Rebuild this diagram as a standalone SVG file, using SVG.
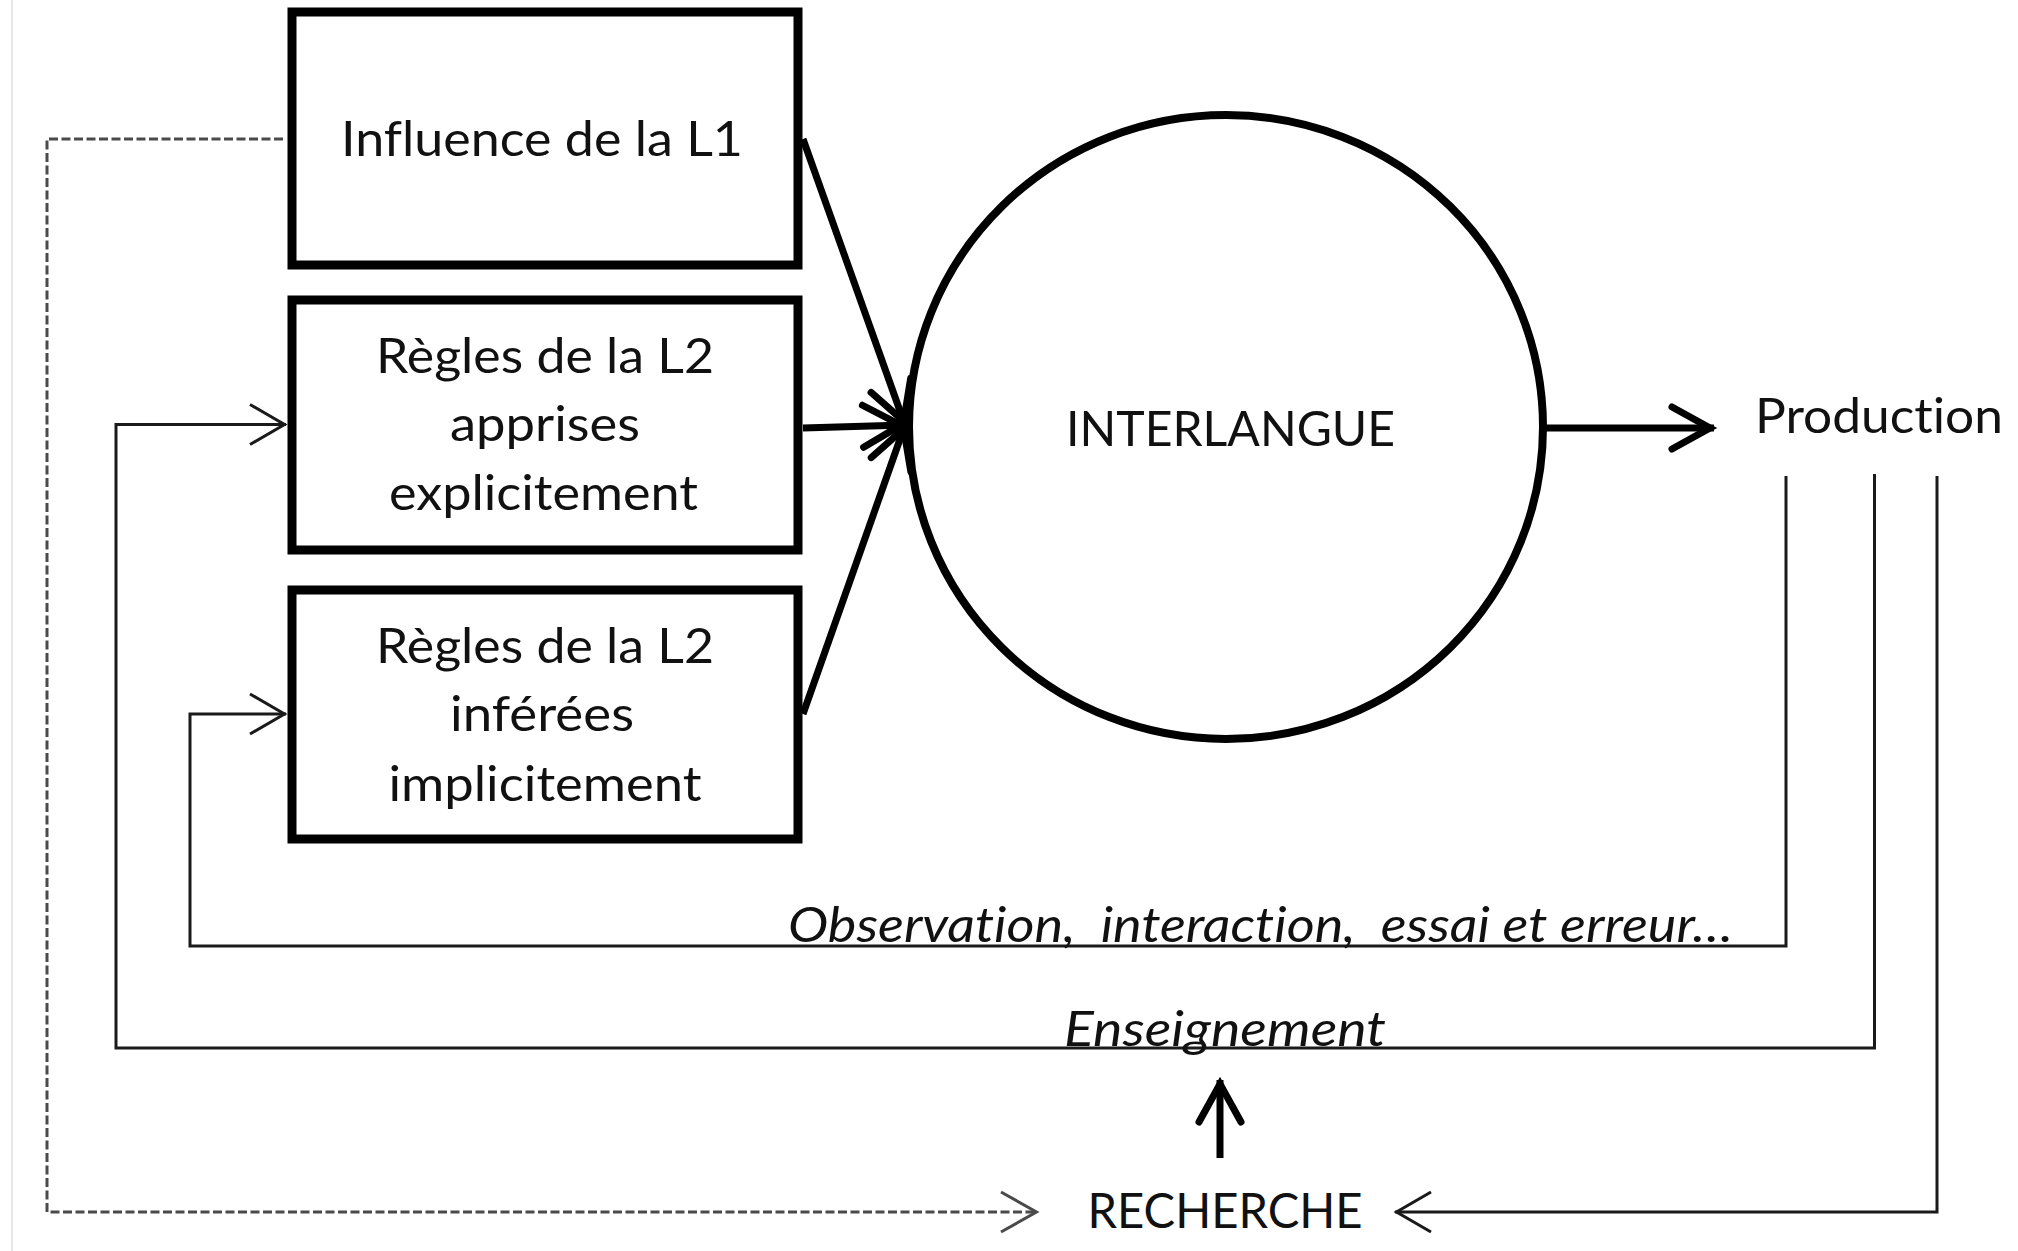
<svg xmlns="http://www.w3.org/2000/svg" width="2018" height="1251" viewBox="0 0 2018 1251">
  <style>
    .box { fill: #ffffff; stroke: #000000; stroke-width: 9; }
    .circ { fill: #ffffff; stroke: #000000; stroke-width: 8; }
    .lbl { font-family: "Lato", "Open Sans", "Liberation Sans", sans-serif; font-size: 48px; fill: #111111; text-anchor: middle; font-variant-ligatures: none; font-feature-settings: "liga" 0, "clig" 0, "dlig" 0; }
    .ital { font-style: italic; }
    .thick { fill: none; stroke: #000000; stroke-width: 7; }
    .thin { fill: none; stroke: #1a1a1a; stroke-width: 3; }
    .dash { fill: none; stroke: #4a4a4a; stroke-width: 3; stroke-dasharray: 9 3.5; }
    .frame { fill: none; stroke: #e8e8e8; stroke-width: 2; }
  </style>
  <defs>
    <marker id="ahThick" markerUnits="userSpaceOnUse" orient="auto" refX="0" refY="0" markerWidth="80" markerHeight="80" viewBox="-60 -40 80 80" overflow="visible">
      <path d="M -42 -21 L -4 0 L -42 21" fill="none" stroke="#000000" stroke-width="7" stroke-linecap="round" stroke-linejoin="miter"/>
    </marker>
    <marker id="ahThin" markerUnits="userSpaceOnUse" orient="auto" refX="0" refY="0" markerWidth="60" markerHeight="60" viewBox="-50 -30 60 60" overflow="visible">
      <path d="M -36 -20 L -1.5 0 L -36 20" fill="none" stroke="#1a1a1a" stroke-width="3" stroke-linejoin="miter"/>
    </marker>
    <marker id="ahDash" markerUnits="userSpaceOnUse" orient="auto" refX="0" refY="0" markerWidth="60" markerHeight="60" viewBox="-50 -30 60 60" overflow="visible">
      <path d="M -37 -20 L -1.5 0 L -37 20" fill="none" stroke="#4a4a4a" stroke-width="3" stroke-linejoin="miter"/>
    </marker>
  </defs>

  <rect x="0" y="0" width="2018" height="1251" fill="#ffffff"/>
  <line class="frame" x1="12" y1="0" x2="12" y2="1251"/>

  <g id="connectors">
    <!-- inputs to interlangue -->
    <line class="thick" x1="803" y1="139" x2="905" y2="425" marker-end="url(#ahThick)"/>
    <line class="thick" x1="803" y1="428" x2="905" y2="425" marker-end="url(#ahThick)"/>
    <line class="thick" x1="803" y1="714" x2="905" y2="425" marker-end="url(#ahThick)"/>
    <!-- interlangue to production -->
    <line class="thick" x1="1543" y1="428" x2="1714" y2="428" marker-end="url(#ahThick)"/>
    <!-- feedback loops -->
    <polyline class="thin" points="1786,476 1786,946 190,946 190,714 286,714" marker-end="url(#ahThin)"/>
    <polyline class="thin" points="1874.5,474 1874.5,1048 116,1048 116,424.5 286,424.5" marker-end="url(#ahThin)"/>
    <polyline class="thin" points="1937,476 1937,1212 1395,1212" marker-end="url(#ahThin)"/>
    <!-- dashed L1 to recherche -->
    <polyline class="dash" points="283,139 47,139 47,1212 1038,1212" marker-end="url(#ahDash)"/>
    <!-- recherche to enseignement -->
    <line class="thick" x1="1220" y1="1158" x2="1220" y2="1080" marker-end="url(#ahThick)"/>
    <g id="edge-labels">
      <text class="lbl ital" x="1260.5" y="942" textLength="945" lengthAdjust="spacingAndGlyphs" xml:space="preserve">Observation,  interaction,  essai et erreur…</text>
      <text class="lbl ital" x="1225" y="1046" textLength="322" lengthAdjust="spacingAndGlyphs">Enseignement</text>
    </g>
  </g>

  <g id="n-influence-l1">
    <rect class="box" x="292" y="12" width="506" height="253"/>
    <text class="lbl" x="542" y="155.5" textLength="402" lengthAdjust="spacingAndGlyphs">Influence de la L1</text>
  </g>

  <g id="n-regles-explicites">
    <rect class="box" x="292" y="300" width="506" height="250"/>
    <text class="lbl" x="545" y="373" textLength="338" lengthAdjust="spacingAndGlyphs">Règles de la L2</text>
    <text class="lbl" x="545" y="440.5" textLength="190" lengthAdjust="spacingAndGlyphs">apprises</text>
    <text class="lbl" x="543.5" y="510" textLength="309" lengthAdjust="spacingAndGlyphs">explicitement</text>
  </g>

  <g id="n-regles-implicites">
    <rect class="box" x="292" y="590" width="506" height="249"/>
    <text class="lbl" x="545" y="663" textLength="338" lengthAdjust="spacingAndGlyphs">Règles de la L2</text>
    <text class="lbl" x="542" y="731" textLength="184" lengthAdjust="spacingAndGlyphs">inférées</text>
    <text class="lbl" x="545" y="800.5" textLength="313" lengthAdjust="spacingAndGlyphs">implicitement</text>
  </g>

  <g id="n-interlangue">
    <ellipse class="circ" cx="1226" cy="427" rx="317" ry="312"/>
    <text class="lbl" x="1230.5" y="445.5" textLength="329" lengthAdjust="spacingAndGlyphs">INTERLANGUE</text>
  </g>

  <g id="n-production">
    <text class="lbl" x="1879" y="432.5" textLength="248" lengthAdjust="spacingAndGlyphs">Production</text>
  </g>

  <g id="n-recherche">
    <text class="lbl" x="1225" y="1228" textLength="275" lengthAdjust="spacingAndGlyphs">RECHERCHE</text>
  </g>
</svg>
